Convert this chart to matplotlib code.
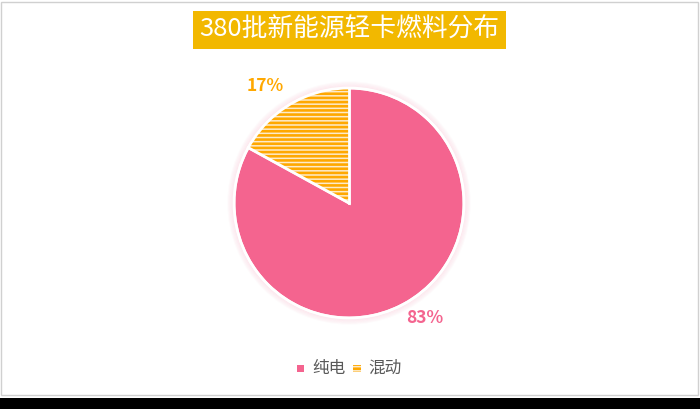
import numpy as np
import matplotlib.pyplot as plt
from matplotlib.patches import Rectangle, Circle

plt.rcParams['font.family'] = ['Noto Sans CJK SC', 'DejaVu Sans']
plt.rcParams['hatch.linewidth'] = 1.9

title = "380批新能源轻卡燃料分布"
labels = ["纯电", "混动"]
shares = [83, 17]

pink = "#F4648F"
orange = "#FFA800"
cream = "#FDEBCB"

W, H = 700, 409
fig = plt.figure(figsize=(7, 4.09), dpi=100)
fig.patch.set_facecolor("white")

# frame and bottom strip
fig.add_artist(Rectangle((1 / W, 14 / H), 697 / W, 393 / H, transform=fig.transFigure,
                         fill=False, edgecolor="#d0d0d0", linewidth=1))
fig.add_artist(Rectangle((0, 0), 1, 11 / H, transform=fig.transFigure,
                         facecolor="black", edgecolor="none"))

# title box
fig.add_artist(Rectangle((193 / W, (H - 49) / H), 313 / W, 38 / H, transform=fig.transFigure,
                         facecolor="#F2B800", edgecolor="none"))
fig.text(349.5 / W, (H - 30) / H, title, color="white", fontsize=18.5,
         ha="center", va="center")

# pie
cx, cy, r = 349, H - 203, 115
half = r * 1.3
ax = fig.add_axes([(cx - half) / W, (cy - half) / H, 2 * half / W, 2 * half / H])
ax.axis("off")

wedges, _ = ax.pie(shares, startangle=90, counterclock=False, radius=1,
                   colors=[pink, cream],
                   wedgeprops=dict(edgecolor="white", linewidth=2))
wedges[1].set_hatch("----")
wedges[1].set_edgecolor(orange)
wedges[1].set_linewidth(0)

# soft glow
for i in range(5):
    ax.add_patch(Circle((0, 0), 1 + 0.01 * (i + 1), facecolor="none",
                        edgecolor="#f9b3c8", linewidth=1.2, alpha=0.22 - 0.04 * i))
ax.add_patch(Circle((0, 0), 1, facecolor="none", edgecolor="white", linewidth=2))
ax.plot([0, 0], [0, 1], color="white", linewidth=2)
a = np.deg2rad(90 + 360 * shares[1] / 100)
ax.plot([0, np.cos(a)], [0, np.sin(a)], color="white", linewidth=2)

ax.set_xlim(-1.3, 1.3)
ax.set_ylim(-1.3, 1.3)
ax.set_aspect("equal")

fig.text(265 / W, (H - 86) / H, f"{shares[1]}%", color=orange, fontsize=12.5,
         fontweight="bold", ha="center", va="center")
fig.text(425 / W, (H - 318) / H, f"{shares[0]}%", color=pink, fontsize=12.5,
         fontweight="bold", ha="center", va="center")

# legend
fig.add_artist(Rectangle((297 / W, (H - 372) / H), 7 / W, 7 / H, transform=fig.transFigure,
                         facecolor=pink, edgecolor="none"))
fig.text(312 / W, (H - 368) / H, labels[0], color="#595959", fontsize=12,
         ha="left", va="center")
fig.add_artist(Rectangle((353 / W, (H - 372) / H), 8 / W, 7 / H, transform=fig.transFigure,
                         facecolor=cream, edgecolor=orange, hatch="----", linewidth=0))
fig.text(368 / W, (H - 368) / H, labels[1], color="#595959", fontsize=12,
         ha="left", va="center")

fig.savefig("out.png", dpi=100)
